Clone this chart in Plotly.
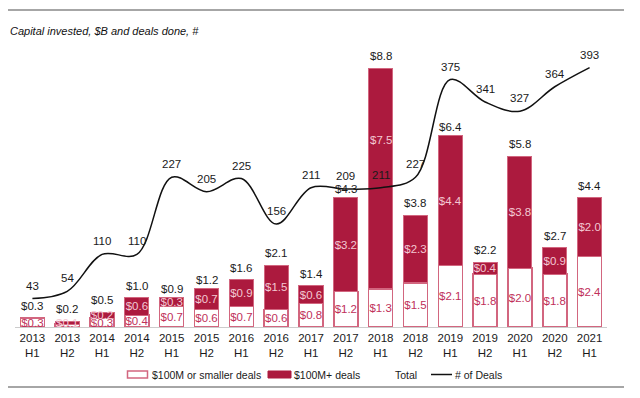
import plotly.graph_objects as go

categories = ["2013<br>H1", "2013<br>H2", "2014<br>H1", "2014<br>H2", "2015<br>H1", "2015<br>H2",
              "2016<br>H1", "2016<br>H2", "2017<br>H1", "2017<br>H2", "2018<br>H1", "2018<br>H2",
              "2019<br>H1", "2019<br>H2", "2020<br>H1", "2020<br>H2", "2021<br>H1"]
small_deals = [0.3, 0.1, 0.3, 0.4, 0.7, 0.6, 0.7, 0.6, 0.8, 1.2, 1.3, 1.5, 2.1, 1.8, 2.0, 1.8, 2.4]
large_deals = [0.0, 0.1, 0.2, 0.6, 0.3, 0.7, 0.9, 1.5, 0.6, 3.2, 7.5, 2.3, 4.4, 0.4, 3.8, 0.9, 2.0]
totals = [0.3, 0.2, 0.5, 1.0, 0.9, 1.2, 1.6, 2.1, 1.4, 4.3, 8.8, 3.8, 6.4, 2.2, 5.8, 2.7, 4.4]
deals = [43, 54, 110, 110, 227, 205, 225, 156, 211, 209, 211, 227, 375, 341, 327, 364, 393]
legend_labels = ["$100M or smaller deals", "$100M+ deals", "Total", "# of Deals"]
# the label of the 2018 H1 large-deal segment sits higher, clear of the deals line
raised_label_index = 10
raised_label_y = 6.35

FONT = "Arial, Liberation Sans, sans-serif"
CRIMSON = "#AC1A3E"
PINK_EDGE = "#D2667F"
TXT = "#1a1a1a"

# page body has an 8px margin: figure pixel = reference pixel - 8
W_FIG, H_FIG = 624, 382
L, R, T, B = 7, 25, 42, 63
PW, PH = W_FIG - L - R, H_FIG - T - B  # 592 x 277


def px(xr):
    return (xr - 15) / PW


def py(yr):
    return (327 - yr) / PH


large_text = []
for i, v in enumerate(large_deals):
    large_text.append("" if (v <= 0 or i == raised_label_index) else f"${v:.1f}")

fig = go.Figure()

fig.add_trace(go.Bar(
    x=categories, y=small_deals, name=legend_labels[0], showlegend=False,
    marker=dict(color="white", line=dict(color=PINK_EDGE, width=1.5)),
    text=[f"${v:.1f}" for v in small_deals], textposition="inside", textangle=0,
    insidetextanchor="middle", constraintext="none",
    textfont=dict(color="#C0305A", size=11.5, family=FONT),
    hoverinfo="skip",
))
fig.add_trace(go.Bar(
    x=categories, y=large_deals, name=legend_labels[1], showlegend=False,
    marker=dict(color=CRIMSON, line=dict(color=PINK_EDGE, width=1)),
    text=large_text, textposition="inside",
    textangle=0, insidetextanchor="middle", constraintext="none",
    textfont=dict(color="#F3C9D3", size=11.5, family=FONT),
    hoverinfo="skip",
))
fig.add_trace(go.Scatter(
    x=categories, y=deals, name=legend_labels[3], mode="lines", yaxis="y2", showlegend=False,
    line=dict(color="#111111", width=1.5, shape="spline", smoothing=1.0), hoverinfo="skip",
))

annotations = []
annotations.append(dict(x=categories[raised_label_index], y=raised_label_y, xref="x", yref="y",
                        text=f"${large_deals[raised_label_index]:.1f}", showarrow=False,
                        font=dict(size=11.5, color="#F3C9D3", family=FONT)))
for c, v in zip(categories, totals):
    annotations.append(dict(x=c, y=v, xref="x", yref="y", text=f"${v:.1f}", showarrow=False,
                            yshift=12, font=dict(size=11.5, color=TXT, family=FONT)))
for c, v in zip(categories, deals):
    annotations.append(dict(x=c, y=v, xref="x", yref="y2", text=str(v), showarrow=False,
                            yshift=13, font=dict(size=11.5, color=TXT, family=FONT)))

# manual legend
leg_y = py(374.5)
leg_text_x = [150, 292, 393, 453]
for lab, xr in zip(legend_labels, leg_text_x):
    annotations.append(dict(x=px(xr), y=leg_y, xref="paper", yref="paper", text=lab,
                            showarrow=False, xanchor="left", yanchor="middle",
                            font=dict(size=10.5, color=TXT, family=FONT)))

shapes = [
    dict(type="line", xref="paper", yref="paper", x0=px(2), x1=px(624),
         y0=py(10), y1=py(10), line=dict(color="#a6a6a6", width=2)),
    dict(type="line", xref="paper", yref="paper", x0=px(2), x1=px(624),
         y0=py(387), y1=py(387), line=dict(color="#a6a6a6", width=2)),
    dict(type="rect", xref="paper", yref="paper", x0=px(127.5), x1=px(147.5),
         y0=py(378), y1=py(371), fillcolor="white", line=dict(color=PINK_EDGE, width=1.5)),
    dict(type="rect", xref="paper", yref="paper", x0=px(268), x1=px(291),
         y0=py(378), y1=py(371), fillcolor=CRIMSON, line=dict(color=CRIMSON, width=1)),
    dict(type="line", xref="paper", yref="paper", x0=px(431), x1=px(452),
         y0=py(374.5), y1=py(374.5), line=dict(color="#111111", width=1.5)),
]

fig.update_layout(
    width=W_FIG, height=H_FIG,
    margin=dict(l=L, r=R, t=T, b=B, autoexpand=False),
    paper_bgcolor="white", plot_bgcolor="white",
    barmode="stack", bargap=0.31,
    font=dict(family=FONT, size=11, color=TXT),
    title=dict(text="<i>Capital invested, $B and deals done, #</i>",
               x=2 / W_FIG, xanchor="left", xref="container",
               y=1 - 23 / H_FIG, yanchor="middle", yref="container",
               font=dict(size=11, color="#111111", family=FONT)),
    xaxis=dict(type="category", showgrid=False, showline=True, linecolor="#cccccc",
               linewidth=1, ticks="", tickfont=dict(size=11.5, color=TXT, family=FONT),
               range=[-0.5, 16.5], automargin=False),
    yaxis=dict(range=[0, PH / 29.4], visible=False, showgrid=False),
    yaxis2=dict(range=[0, PH / 0.66], overlaying="y", side="right", visible=False,
                showgrid=False),
    showlegend=False,
    annotations=annotations,
    shapes=shapes,
)

fig.write_html("out.html")
